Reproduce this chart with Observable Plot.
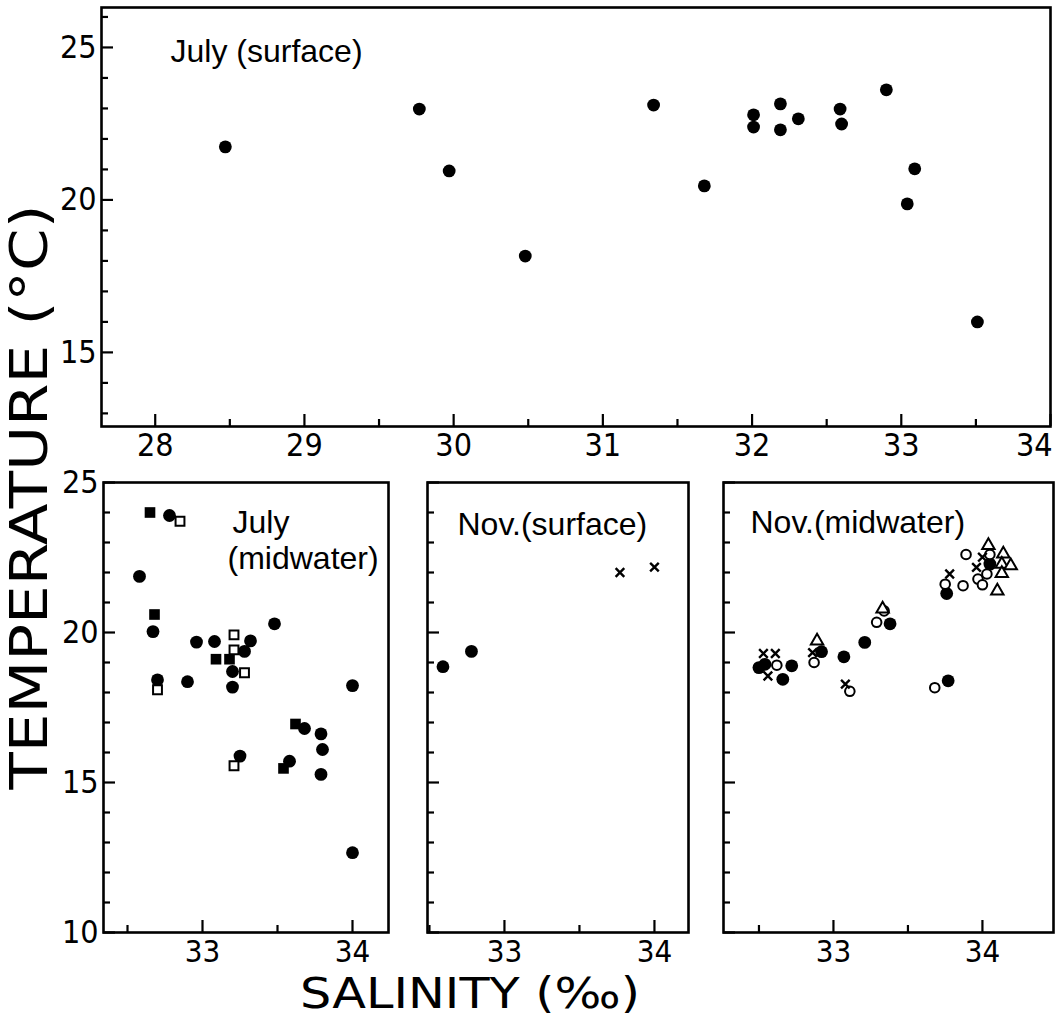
<!DOCTYPE html>
<html><head><meta charset="utf-8">
<script src="https://cdn.jsdelivr.net/npm/d3@7"></script>
<script src="https://cdn.jsdelivr.net/npm/@observablehq/plot@0.6"></script>
<style>
html,body{margin:0;padding:0;background:#fff;}
#root{position:relative;width:1058px;height:1019px;overflow:hidden;background:#fff;}
#root > .panel{position:absolute;}
#titles{position:absolute;left:0;top:0;pointer-events:none;}
</style></head><body><div id="root"></div>
<script>
// ---------- DATA ----------
// July (surface)
const julySurfSal  = [28.47, 29.77, 29.97, 30.48, 31.34, 31.68, 32.01, 32.01, 32.19, 32.19, 32.31, 32.59, 32.60, 32.90, 33.09, 33.04, 33.51];
const julySurfTemp = [21.74, 22.98, 20.95, 18.16, 23.11, 20.46, 22.79, 22.39, 23.15, 22.30, 22.66, 22.98, 22.49, 23.61, 21.02, 19.87, 16.00];

// July (midwater)
const julyMidCircleSal  = [32.78, 32.58, 32.67, 32.70, 32.90, 32.96, 33.08, 33.32, 33.28, 33.20, 33.20, 33.48, 34.00, 33.68, 33.79, 33.80, 33.79, 33.25, 33.58, 34.00];
const julyMidCircleTemp = [23.90, 21.87, 20.03, 18.42, 18.36, 19.68, 19.70, 19.72, 19.37, 18.70, 18.18, 20.29, 18.23, 16.80, 16.62, 16.10, 15.27, 15.88, 15.71, 12.66];
const julyMidFSquareSal  = [32.65, 32.68, 33.09, 33.18, 33.62, 33.54];
const julyMidFSquareTemp = [24.00, 20.60, 19.11, 19.11, 16.95, 15.47];
const julyMidOSquareSal  = [32.85, 32.70, 33.21, 33.21, 33.28, 33.21];
const julyMidOSquareTemp = [23.71, 18.09, 19.92, 19.42, 18.66, 15.56];

// Nov. (surface)
const novSurfCircleSal  = [32.59, 32.78];
const novSurfCircleTemp = [18.86, 19.37];
const novSurfCrossSal   = [33.77, 34.00];
const novSurfCrossTemp  = [22.00, 22.18];

// Nov. (midwater)
const novMidCircleSal  = [32.50, 32.54, 32.66, 32.72, 32.92, 33.07, 33.21, 33.38, 33.77, 33.76, 34.05];
const novMidCircleTemp = [18.83, 18.94, 18.44, 18.89, 19.36, 19.19, 19.67, 20.29, 18.39, 21.30, 22.28];
const novMidOpenSal  = [32.62, 32.87, 33.11, 33.29, 33.34, 33.68, 33.75, 33.89, 33.87, 34.05, 34.03, 33.97, 34.00];
const novMidOpenTemp = [18.91, 19.00, 18.04, 20.34, 20.72, 18.16, 21.61, 22.60, 21.56, 22.60, 21.95, 21.78, 21.59];
const novMidCrossSal  = [32.53, 32.61, 32.56, 32.86, 33.08, 33.78, 34.00, 33.96];
const novMidCrossTemp = [19.30, 19.30, 18.55, 19.33, 18.28, 21.95, 22.51, 22.17];
const novMidTriSal  = [32.89, 33.33, 34.04, 34.14, 34.13, 34.19, 34.13, 34.10];
const novMidTriTemp = [19.72, 20.79, 22.90, 22.62, 22.28, 22.23, 21.97, 21.39];

// Tick values / labels
const topXLabels = [28, 29, 30, 31, 32, 33, 34];
const topXMinor  = [28.5, 29.5, 30.5, 31.5, 32.5, 33.5];
const topYLabels = [15, 20, 25];
const topYMinor  = [13, 14, 16, 17, 18, 19, 21, 22, 23, 24, 26];
const botXLabels = [33, 34];
const botXMinor  = [32.5, 33.5];
const botYLabels = [10, 15, 20, 25];
const botYMinor  = [11, 12, 13, 14, 16, 17, 18, 19, 21, 22, 23, 24];

const panelTitles = ["July (surface)", "July", "(midwater)", "Nov.(surface)", "Nov.(midwater)"];
const yTitle = "TEMPERATURE (°C)";
const xTitle = "SALINITY (‰)";

// ---------- DRAWING ----------
const TICKFONT = '"Liberation Sans Narrow","DejaVu Sans Condensed","Liberation Sans",Arial,sans-serif';
const TEXTFONT = '"Liberation Sans",Arial,sans-serif';
const pts = (xs, ys) => xs.map((x, i) => ({x, y: ys[i]}));
const fmt = d => String(d);

function series(kind, xs, ys) {
  const d = pts(xs, ys);
  switch (kind) {
    case "fcircle": return Plot.dot(d, {x: "x", y: "y", r: 6.4, fill: "black", stroke: "none"});
    case "ocircle": return Plot.dot(d, {x: "x", y: "y", r: 4.8, fill: "white", stroke: "black", strokeWidth: 2});
    case "fsquare": return Plot.dot(d, {x: "x", y: "y", symbol: "square", r: 6.0, fill: "black", stroke: "none"});
    case "osquare": return Plot.dot(d, {x: "x", y: "y", symbol: "square", r: 5.0, fill: "white", stroke: "black", strokeWidth: 2});
    case "cross":   return Plot.dot(d, {x: "x", y: "y", symbol: "times", r: 4.0, stroke: "black", strokeWidth: 2.4});
    case "tri":     return Plot.dot(d, {x: "x", y: "y", symbol: "triangle", r: 4.6, fill: "white", stroke: "black", strokeWidth: 2});
  }
}

function panel(o) {
  const iw = o.width - o.ml - o.mr, ih = o.height - o.mt - o.mb;
  const pxX = iw / (o.xDomain[1] - o.xDomain[0]);
  const pxY = ih / (o.yDomain[1] - o.yDomain[0]);
  const x0 = o.xDomain[0], y0 = o.yDomain[0];
  const MAJ = 12, MIN = 7;
  const axisOpts = {tickSize: 0, label: null, fontSize: o.fs, fontFamily: TICKFONT, fill: "black", tickFormat: fmt};
  const marks = [
    Plot.ruleX(o.xMajor, {x: d => d, y1: y0, y2: y0 + MAJ / pxY, strokeWidth: 2.2}),
    Plot.ruleX(o.xMinor, {x: d => d, y1: y0, y2: y0 + MIN / pxY, strokeWidth: 2.2}),
    Plot.ruleY(o.yMajor, {y: d => d, x1: x0, x2: x0 + MAJ / pxX, strokeWidth: 2.2}),
    Plot.ruleY(o.yMinor, {y: d => d, x1: x0, x2: x0 + MIN / pxX, strokeWidth: 2.2}),
  ];
  // x labels; a label sitting on the right frame edge is pulled inside
  const edge = o.xLabels.filter(v => v >= o.xDomain[1]);
  const inner = o.xLabels.filter(v => v < o.xDomain[1]);
  marks.push(Plot.axisX({...axisOpts, ticks: inner, tickPadding: o.xPad}));
  if (edge.length) marks.push(Plot.axisX({...axisOpts, ticks: edge, tickPadding: o.xPad, textAnchor: "end", dx: 2}));
  if (o.yLabels) marks.push(Plot.axisY({...axisOpts, fontSize: 32, ticks: o.yLabels, tickPadding: 5}));
  for (const s of o.series) marks.push(s);
  for (const t of o.texts) marks.push(Plot.text([t.text], {frameAnchor: "top-left", text: d => d, dx: t.dx, dy: t.dy, textAnchor: "start", lineAnchor: "top", fontSize: 32, fontFamily: TEXTFONT, fill: "black"}));
  marks.push(Plot.frame({stroke: "black", strokeWidth: 2.6}));
  const p = Plot.plot({
    width: o.width, height: o.height,
    marginLeft: o.ml, marginRight: o.mr, marginTop: o.mt, marginBottom: o.mb,
    x: {domain: o.xDomain},
    y: {domain: o.yDomain, axis: o.yLabels ? undefined : null},
    style: {background: "transparent", overflow: "visible", color: "black"},
    marks
  });
  const wrap = document.createElement("div");
  wrap.className = "panel";
  wrap.style.left = o.left + "px";
  wrap.style.top = o.top + "px";
  wrap.appendChild(p);
  document.getElementById("root").appendChild(wrap);
}

// Top: July (surface)
panel({
  left: 0, top: 0, width: 1058, height: 470, ml: 101, mr: 8, mt: 7, mb: 44,
  xDomain: [27.64, 34.0], yDomain: [12.57, 26.31],
  xMajor: topXLabels, xMinor: topXMinor, yMajor: topYLabels, yMinor: topYMinor,
  xLabels: topXLabels, yLabels: topYLabels, xPad: 7, fs: 32,
  series: [series("fcircle", julySurfSal, julySurfTemp)],
  texts: [{text: panelTitles[0], dx: 69, dy: 32}]
});

// Bottom left: July (midwater)
panel({
  left: 0, top: 470, width: 400, height: 510, ml: 103, mr: 12, mt: 12, mb: 48,
  xDomain: [32.34, 34.24], yDomain: [10, 25],
  xMajor: botXLabels, xMinor: botXMinor, yMajor: botYLabels, yMinor: botYMinor,
  xLabels: botXLabels, yLabels: botYLabels, xPad: 7, fs: 31,
  series: [
    series("fcircle", julyMidCircleSal, julyMidCircleTemp),
    series("fsquare", julyMidFSquareSal, julyMidFSquareTemp),
    series("osquare", julyMidOSquareSal, julyMidOSquareTemp)
  ],
  texts: [{text: panelTitles[1], dx: 129, dy: 28}, {text: panelTitles[2], dx: 124, dy: 64}]
});

// Bottom middle: Nov. (surface)
panel({
  left: 400, top: 470, width: 300, height: 510, ml: 27, mr: 12, mt: 12, mb: 48,
  xDomain: [32.487, 34.227], yDomain: [10, 25],
  xMajor: botXLabels, xMinor: botXMinor, yMajor: botYLabels, yMinor: botYMinor,
  xLabels: botXLabels, yLabels: null, xPad: 7, fs: 31,
  series: [
    series("fcircle", novSurfCircleSal, novSurfCircleTemp),
    series("cross", novSurfCrossSal, novSurfCrossTemp)
  ],
  texts: [{text: panelTitles[3], dx: 30, dy: 30}]
});

// Bottom right: Nov. (midwater)
panel({
  left: 700, top: 470, width: 358, height: 510, ml: 23, mr: 5, mt: 12, mb: 48,
  xDomain: [32.262, 34.477], yDomain: [10, 25],
  xMajor: botXLabels, xMinor: botXMinor, yMajor: botYLabels, yMinor: botYMinor,
  xLabels: botXLabels, yLabels: null, xPad: 7, fs: 31,
  series: [
    series("fcircle", novMidCircleSal, novMidCircleTemp),
    series("ocircle", novMidOpenSal, novMidOpenTemp),
    series("tri", novMidTriSal, novMidTriTemp),
    series("cross", novMidCrossSal, novMidCrossTemp)
  ],
  texts: [{text: panelTitles[4], dx: 27, dy: 28}]
});

// Axis titles (outside the plots)
const NS = "http://www.w3.org/2000/svg";
const svg = document.createElementNS(NS, "svg");
svg.setAttribute("id", "titles");
svg.setAttribute("width", 1058);
svg.setAttribute("height", 1019);
function addText(str, attrs) {
  const t = document.createElementNS(NS, "text");
  for (const k in attrs) t.setAttribute(k, attrs[k]);
  t.textContent = str;
  svg.appendChild(t);
}
addText(yTitle, {transform: "translate(47,497) rotate(-90)", "text-anchor": "middle", "font-size": 52,
  "font-family": '"DejaVu Sans",sans-serif', textLength: 585, lengthAdjust: "spacingAndGlyphs", fill: "black"});
addText(xTitle, {x: 470, y: 1008, "text-anchor": "middle", "font-size": 43,
  "font-family": '"DejaVu Sans",sans-serif', textLength: 340, lengthAdjust: "spacingAndGlyphs", fill: "black"});
document.getElementById("root").appendChild(svg);
</script></body></html>
